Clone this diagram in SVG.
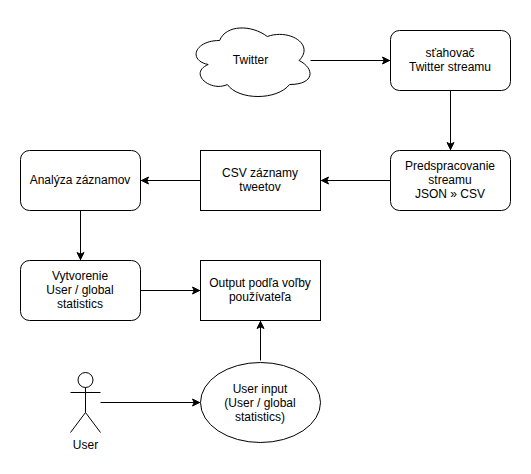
<svg xmlns="http://www.w3.org/2000/svg" width="531" height="474" viewBox="0 0 531 474">
<style>
.s{fill:#fff;stroke:#000;stroke-width:1}
.c{fill:none;stroke:#000;stroke-width:1}
text{font-family:"Liberation Sans",Arial,sans-serif;font-size:12px;fill:#000;text-anchor:middle}
</style>
<defs><marker id="a" markerUnits="userSpaceOnUse" markerWidth="10" markerHeight="10" refX="8" refY="4.5" orient="auto"><path d="M0.5 1L7.5 4.5L0.5 8L2.25 4.5Z" fill="#000" stroke="#000"/></marker></defs>
<rect width="531" height="474" fill="#fff"/>
<g id="connectors">
<path class="c" marker-end="url(#a)" d="M310.5 60.5H390"/>
<path class="c" marker-end="url(#a)" d="M450.5 90.5V150"/>
<path class="c" marker-end="url(#a)" d="M390.5 180.5H321"/>
<path class="c" marker-end="url(#a)" d="M200.5 180.5H141"/>
<path class="c" marker-end="url(#a)" d="M80.5 210.5V260"/>
<path class="c" marker-end="url(#a)" d="M140.5 290.5H200"/>
<path class="c" marker-end="url(#a)" d="M260.5 360.5V321"/>
<path class="c" marker-end="url(#a)" d="M100.5 402.5H200"/>
</g>
<g id="twitter"><path class="s" d="M219.6 40.5C194.2 40.5 187.8 60.5 208.2 64.5C187.8 73.3 210.7 92.5 227.3 84.5C238.7 100.5 276.9 100.5 289.6 84.5C315 84.5 315 68.5 299.1 60.5C315 44.5 289.6 28.5 267.3 36.5C251.4 24.5 226 24.5 219.6 40.5Z"/><text x="250.5" y="64">Twitter</text></g>
<g id="stahovac"><rect class="s" x="390.5" y="30.5" width="120" height="60" rx="9" ry="9"/><text x="450" y="57">sťahovač</text><text x="450" y="71">Twitter streamu</text></g>
<g id="predspracovanie"><rect class="s" x="390.5" y="150.5" width="120" height="60" rx="9" ry="9"/><text x="450" y="170">Predspracovanie</text><text x="450" y="184">streamu</text><text x="450" y="198">JSON » CSV</text></g>
<g id="csv"><rect class="s" x="200.5" y="150.5" width="120" height="60"/><text x="260" y="177">CSV záznamy</text><text x="260" y="191">tweetov</text></g>
<g id="analyza"><rect class="s" x="20.5" y="150.5" width="120" height="60" rx="9" ry="9"/><text x="80" y="184">Analýza záznamov</text></g>
<g id="vytvorenie"><rect class="s" x="20.5" y="260.5" width="120" height="60" rx="9" ry="9"/><text x="80" y="280">Vytvorenie</text><text x="80" y="294">User / global</text><text x="80" y="308">statistics</text></g>
<g id="output"><rect class="s" x="200.5" y="260.5" width="120" height="60"/><text x="260" y="287">Output podľa voľby</text><text x="260" y="301">používateľa</text></g>
<g id="userinput"><ellipse class="s" cx="260.5" cy="402.5" rx="60" ry="40"/><text x="260" y="393">User input</text><text x="260" y="407">(User / global</text><text x="260" y="421">statistics)</text></g>
<g id="user"><circle class="s" cx="85.5" cy="380" r="7.5"/><path class="c" d="M85.5 387.5V412.5M70.5 392.5H100.5M85.5 412.5L70.5 432.5M85.5 412.5L100.5 432.5"/><text x="85.5" y="449">User</text></g>
</svg>
